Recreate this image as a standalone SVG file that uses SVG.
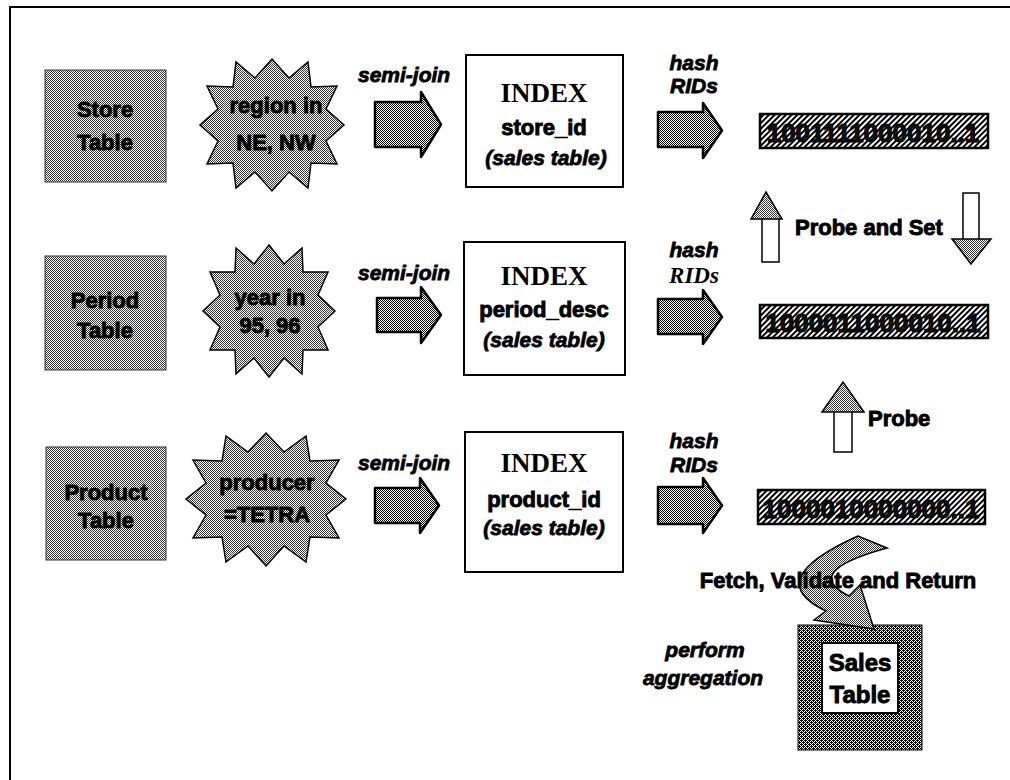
<svg xmlns="http://www.w3.org/2000/svg" width="1010" height="780" viewBox="0 0 1010 780">
<defs>
<pattern id="chk" width="2" height="2" patternUnits="userSpaceOnUse"><rect width="2" height="2" fill="#fff"/><rect width="1" height="1" fill="#3a3a3a"/><rect x="1" y="1" width="1" height="1" fill="#3a3a3a"/></pattern>
<pattern id="achk" width="2" height="2" patternUnits="userSpaceOnUse"><rect width="2" height="2" fill="#fff"/><rect width="1" height="1" fill="#000"/><rect x="1" y="1" width="1" height="1" fill="#000"/></pattern>
<pattern id="dchk" width="4" height="4" patternUnits="userSpaceOnUse"><rect width="4" height="4" fill="#fff"/><rect width="1" height="1" fill="#000"/><rect x="2" y="0" width="1" height="1" fill="#000"/><rect x="1" y="1" width="1" height="1" fill="#000"/><rect x="3" y="1" width="1" height="1" fill="#000"/><rect x="0" y="2" width="1" height="1" fill="#000"/><rect x="2" y="2" width="1" height="1" fill="#000"/><rect x="1" y="3" width="1" height="1" fill="#000"/><rect x="3" y="3" width="1" height="1" fill="#000"/><rect x="1" y="0" width="1" height="1" fill="#000"/><rect x="3" y="2" width="1" height="1" fill="#000"/></pattern>
<pattern id="hatch" width="4" height="4" patternUnits="userSpaceOnUse" patternTransform="rotate(45)"><rect width="4" height="4" fill="#fff"/><rect width="2" height="4" fill="#000"/></pattern>
</defs>
<style>
.tbl{fill:url(#chk);stroke:#333;stroke-width:1}
.star{fill:url(#chk);stroke:#000;stroke-width:1.5;stroke-linejoin:miter}
.idx{fill:#fff;stroke:#000;stroke-width:2}
.bits{fill:url(#hatch);stroke:#000;stroke-width:2.5}
.fat{fill:url(#achk);stroke:#000;stroke-width:2.5;stroke-linejoin:round}
.head{fill:url(#chk);stroke:#000;stroke-width:1.5;stroke-linejoin:miter}
.shaft{fill:#fff;stroke:#000;stroke-width:1.5}
.curve{fill:url(#chk);stroke:#000;stroke-width:1.5}
.b{font-family:"Liberation Sans",Arial,sans-serif;font-weight:bold;font-size:22px;fill:#000;stroke:#000;stroke-width:0.9}
.bi{font-family:"Liberation Sans",Arial,sans-serif;font-weight:bold;font-style:italic;font-size:21px;fill:#000;stroke:#000;stroke-width:0.8}
.serif{font-family:"Liberation Serif","Times New Roman",serif;font-weight:bold;font-size:27px;fill:#000}
.serifi{font-family:"Liberation Serif","Times New Roman",serif;font-weight:bold;font-style:italic;font-size:23px;fill:#000}
.bt{font-family:"Liberation Sans",Arial,sans-serif;font-weight:bold;font-size:26px;fill:#111;stroke:#000;stroke-width:1}
.m{text-anchor:middle}
</style>
<path d="M10,790 V7 H1020" fill="none" stroke="#000" stroke-width="2"/>

<g id="store-table"><rect class="tbl" x="45" y="70" width="121" height="112"/><text class="b m" x="105" y="117">Store</text><text class="b m" x="105" y="150">Table</text></g>
<g id="period-table"><rect class="tbl" x="45" y="256" width="121" height="114"/><text class="b m" x="105" y="308">Period</text><text class="b m" x="105" y="338">Table</text></g>
<g id="product-table"><rect class="tbl" x="46" y="447" width="120" height="113"/><text class="b m" x="106" y="500">Product</text><text class="b m" x="106" y="528">Table</text></g>

<g id="star-region"><polygon class="star" points="344,125 326,141 337,164 311,163 308,188 289,172 272,191 255,172 236,188 233,163 207,164 218,141 200,125 218,109 207,86 233,87 236,62 255,78 272,59 289,78 308,62 311,87 337,86 326,109"/><text class="b m" x="276" y="113">region in</text><text class="b m" x="276" y="150">NE, NW</text></g>
<g id="star-year"><polygon class="star" points="335,311 318,327 328,350 303,350 302,374 284,358 269,377 254,358 236,374 235,350 210,350 220,327 203,311 220,295 210,272 235,272 236,248 254,264 269,245 284,264 302,248 303,272 328,272 318,295"/><text class="b m" x="270" y="305">year in</text><text class="b m" x="270" y="333">95, 96</text></g>
<g id="star-producer"><polygon class="star" points="346,499 326,515 339,538 310,537 306,562 284,546 266,566 248,546 226,562 222,537 193,538 206,515 186,499 206,483 193,460 222,461 226,436 248,452 266,433 284,452 306,436 310,461 339,460 326,483"/><text class="b m" x="267" y="490">producer</text><text class="b m" x="267" y="522">=TETRA</text></g>

<g id="index-store"><rect class="idx" x="466" y="55" width="157" height="132"/><text class="serif m" x="544" y="102">INDEX</text><text class="b m" x="544" y="135">store_id</text><text class="bi m" x="546" y="165">(sales table)</text></g>
<g id="index-period"><rect class="idx" x="464" y="242" width="161" height="133"/><text class="serif m" x="544" y="285">INDEX</text><text class="b m" x="544" y="317">period_desc</text><text class="bi m" x="544" y="347">(sales table)</text></g>
<g id="index-product"><rect class="idx" x="465" y="432" width="158" height="140"/><text class="serif m" x="544" y="472">INDEX</text><text class="b m" x="544" y="507">product_id</text><text class="bi m" x="544" y="535">(sales table)</text></g>

<g id="bits-1"><rect class="bits" x="760" y="114" width="228" height="34"/><text class="bt m" x="873" y="142">1001111000010..1</text></g>
<g id="bits-2"><rect class="bits" x="760" y="305" width="228" height="33"/><text class="bt m" x="873" y="332">1000011000010..1</text></g>
<g id="bits-3"><rect class="bits" x="758" y="490" width="227" height="34"/><text class="bt m" x="871" y="518">1000010000000..1</text></g>

<g id="sales-table"><rect x="798" y="625" width="124" height="125" fill="url(#dchk)" stroke="#000" stroke-width="1"/><rect class="idx" x="822" y="643" width="76" height="70"/><text class="b m" x="860" y="671" style="font-size:24px">Sales</text><text class="b m" x="860" y="703" style="font-size:24px">Table</text></g>

<g id="connectors">
<path class="fat" d="M375,102 H421 V92 L441,124.5 L421,157 V147 H375 Z"/>
<path class="fat" d="M377,298 H421 V287 L441,315 L421,343 V332 H377 Z"/>
<path class="fat" d="M375,488 H420 V478 L439,505.5 L420,533 V523 H375 Z"/>
<path class="fat" d="M658,112 H703 V103 L722,130.5 L703,158 V147 H658 Z"/>
<path class="fat" d="M658,299 H703 V290 L722,317 L703,344 V334 H658 Z"/>
<path class="fat" d="M658,487 H703 V478 L722,505.5 L703,533 V524 H658 Z"/>
<rect class="shaft" x="762" y="218" width="17" height="44"/>
<polygon class="head" points="751,219 766,192 782,219"/>
<rect class="shaft" x="963" y="193" width="16" height="47"/>
<polygon class="head" points="952,239 971,264 991,239"/>
<rect class="shaft" x="834" y="411" width="18" height="41"/>
<polygon class="head" points="822,412 843,382 864,412"/>
<path class="curve" d="M887,548 L858,536 Q760,580 826,611 L814,620 L874,629 L860,585 L849,596 Q800,572 887,548 Z"/>
</g>

<g id="labels">
<text class="bi" x="358" y="82">semi-join</text>
<text class="bi" x="358" y="280">semi-join</text>
<text class="bi" x="358" y="470">semi-join</text>
<text class="bi m" x="694" y="70">hash</text>
<text class="bi m" x="694" y="93">RIDs</text>
<text class="bi m" x="694" y="257">hash</text>
<text class="serifi m" x="694" y="283">RIDs</text>
<text class="bi m" x="694" y="448">hash</text>
<text class="bi m" x="694" y="472">RIDs</text>
<text class="b" x="795" y="235">Probe and Set</text>
<text class="b" x="868" y="426">Probe</text>
<text class="b m" x="838" y="588">Fetch, Validate and Return</text>
<text class="bi m" x="705" y="657">perform</text>
<text class="bi m" x="703" y="685">aggregation</text>
</g>
</svg>
